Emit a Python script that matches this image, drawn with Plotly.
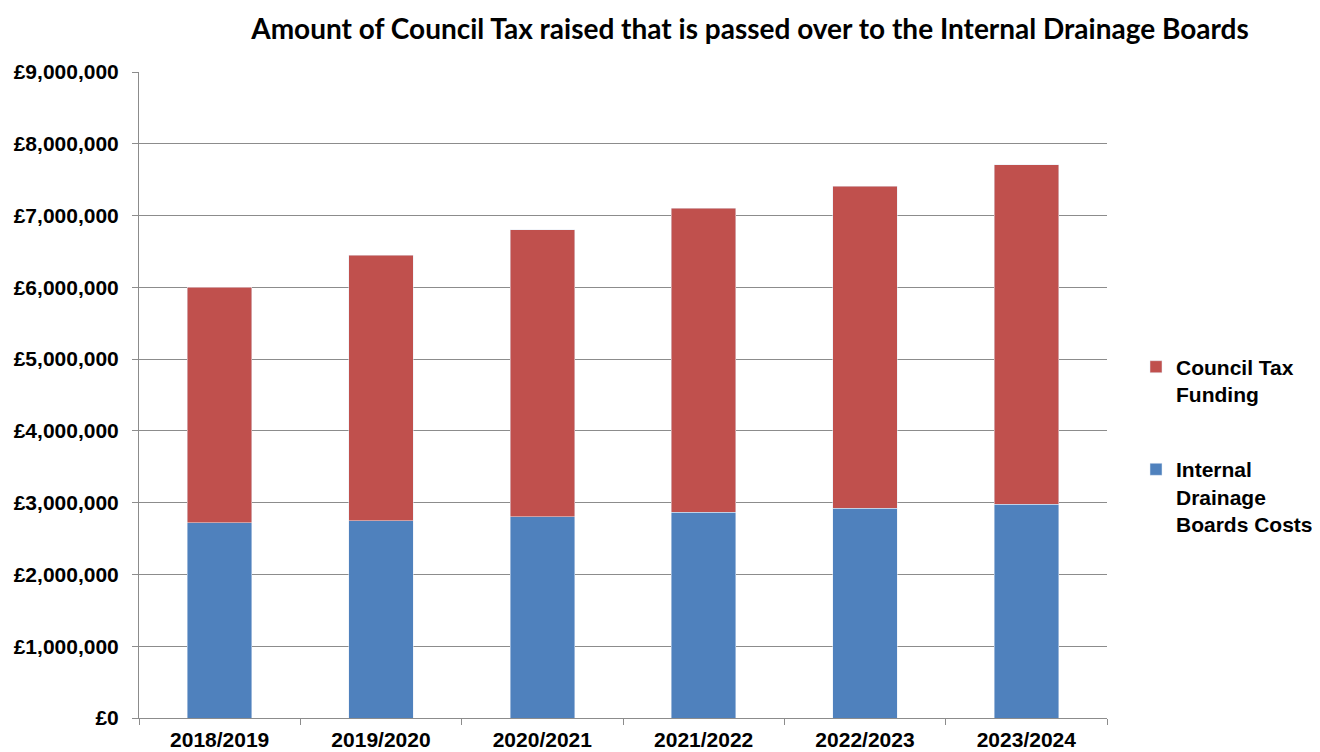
import plotly.graph_objects as go

years = ["2018/2019", "2019/2020", "2020/2021", "2021/2022", "2022/2023", "2023/2024"]
idb_costs = [2720000, 2750000, 2805000, 2865000, 2925000, 2980000]
totals = [6000000, 6445000, 6800000, 7105000, 7410000, 7710000]
council_tax = [t - c for t, c in zip(totals, idb_costs)]
ytick_vals = [0, 1000000, 2000000, 3000000, 4000000, 5000000, 6000000, 7000000, 8000000, 9000000]
ytick_text = ["£0", "£1,000,000", "£2,000,000", "£3,000,000", "£4,000,000", "£5,000,000",
              "£6,000,000", "£7,000,000", "£8,000,000", "£9,000,000"]

fig = go.Figure()
fig.add_trace(go.Bar(x=years, y=idb_costs, name="<b>Internal<br>Drainage<br>Boards Costs</b>",
                     marker_color="#4F81BD", legendgroup="b", legendrank=2))
fig.add_trace(go.Bar(x=years, y=council_tax, name="<b>Council Tax<br>Funding</b>",
                     marker_color="#C0504D", legendgroup="a", legendrank=1))

fig.update_layout(
    width=1320, height=752,
    barmode="stack", bargap=0.6,
    paper_bgcolor="white", plot_bgcolor="white",
    margin=dict(l=131, r=221, t=64, b=42, autoexpand=False),
    font=dict(family="Liberation Sans, Arial", size=21, color="black"),
    title=dict(text="<b>Amount of Council Tax raised that is passed over to the Internal Drainage Boards</b>",
               x=742/1320, xref="container", xanchor="center", y=1 - 21/752, yanchor="middle",
               font=dict(family="Lato, Open Sans", size=28, color="black")),
    legend=dict(x=1128/1320, xref="container", y=0.575, xanchor="left", yanchor="top",
                traceorder="grouped", tracegroupgap=45, valign="top",
                font=dict(family="Liberation Sans, Arial", size=21, color="black"),
                itemwidth=30),
    showlegend=True,
)
fig.update_yaxes(range=[0, 9000000], tickvals=ytick_vals, ticktext=["<b>%s</b>" % t for t in ytick_text],
                 showgrid=True, gridcolor="#8C8C8C", gridwidth=1,
                 showline=True, linecolor="#8C8C8C", linewidth=1,
                 ticks="outside", ticklen=6, tickcolor="#8C8C8C", ticklabelstandoff=9,
                 tickfont=dict(size=21), zeroline=False)
fig.update_xaxes(tickvals=years, ticktext=["<b>%s</b>" % y for y in years],
                 showline=True, linecolor="#8C8C8C", linewidth=1,
                 ticks="outside", ticklen=6, tickcolor="#8C8C8C", tickson="boundaries",
                 ticklabelstandoff=3, tickfont=dict(size=21))

fig.write_html("out.html")
